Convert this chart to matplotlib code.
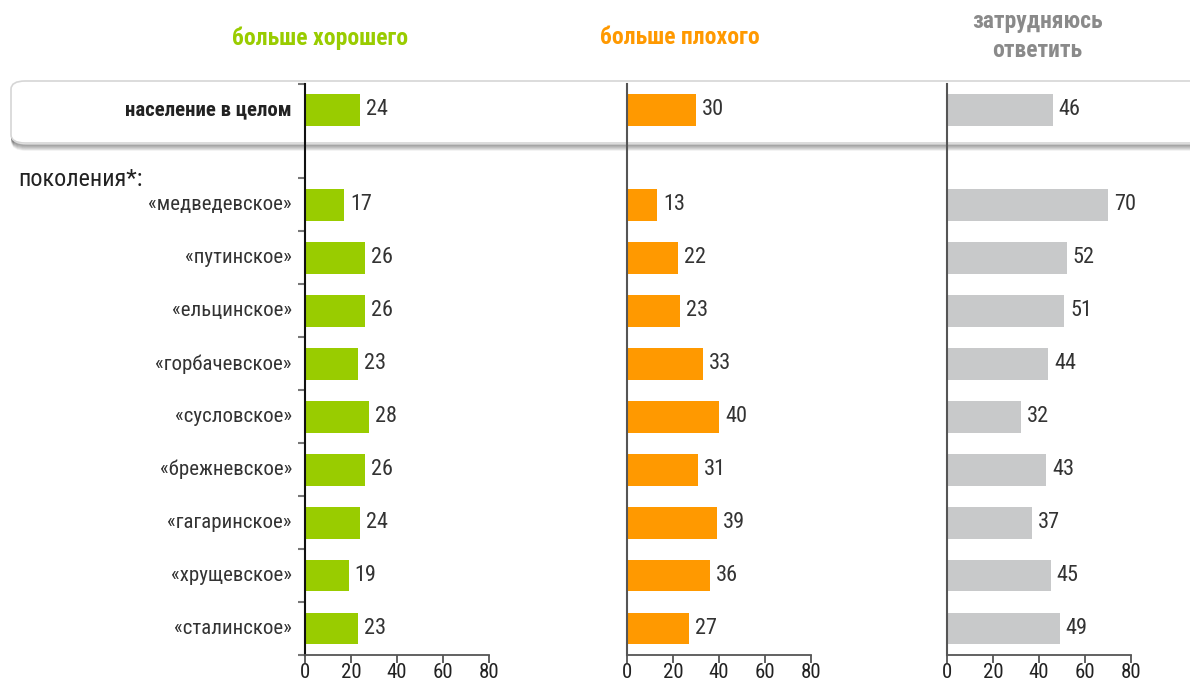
import matplotlib.pyplot as plt
from matplotlib.patches import FancyBboxPatch
import matplotlib.font_manager as fm

# font: try a narrow family, fall back to DejaVu
names = {f.name for f in fm.fontManager.ttflist}
fam = [n for n in ['Roboto Condensed', 'Liberation Sans Narrow', 'Open Sans', 'DejaVu Sans'] if n in names]
plt.rcParams['font.family'] = fam

# data
total_label = "население в целом"
total = [24, 30, 46]
generations = ["«медведевское»", "«путинское»", "«ельцинское»", "«горбачевское»",
               "«сусловское»", "«брежневское»", "«гагаринское»", "«хрущевское»",
               "«сталинское»"]
good = [17, 26, 26, 23, 28, 26, 24, 19, 23]
bad = [13, 22, 23, 33, 40, 31, 39, 36, 27]
hard = [70, 52, 51, 44, 32, 43, 37, 45, 49]
headers = ["больше хорошего", "больше плохого", "затрудняюсь\nответить"]
colors = ["#99cc00", "#ff9900", "#c8c9ca"]
head_colors = ["#99cc00", "#ff9900", "#8a8a8a"]
xticks = [0, 20, 40, 60, 80]

W, H = 1190, 685
fig = plt.figure(figsize=(W / 100, H / 100), dpi=100)

# rounded box around the "population" row, with a soft shadow
for i in range(6):
    sh = FancyBboxPatch((12 / W, (H - 145 - i) / H), 1200 / W, 62 / H,
                        boxstyle="round,pad=0,rounding_size=0.012",
                        transform=fig.transFigure, fc="none",
                        ec="#404040", lw=1.2, alpha=0.35 - i * 0.055, zorder=-3)
    fig.patches.append(sh)
box = FancyBboxPatch((11 / W, (H - 143) / H), 1200 / W, 62 / H,
                     boxstyle="round,pad=0,rounding_size=0.012",
                     transform=fig.transFigure, fc="white", ec="#d6d6d6",
                     lw=1.2, zorder=-2)
fig.patches.append(box)

lefts = [305, 627, 947]
top_px, bot_px = 84, 655
row0_px, step_px = 205, 53
y_total = (110 - row0_px) / step_px
y_top = (top_px - row0_px) / step_px
ys = list(range(len(generations)))

for k, (vals, col) in enumerate(zip([good, bad, hard], colors)):
    ax = fig.add_axes([lefts[k] / W, (H - bot_px) / H, 184 / W, (bot_px - top_px) / H])
    ax.patch.set_alpha(0)
    ax.barh(ys, vals, height=0.6, color=col, zorder=2)
    ax.barh([y_total], [total[k]], height=0.6, color=col, zorder=2)
    for y, v in zip(ys + [y_total], vals + [total[k]]):
        ax.annotate(str(v), (v, y), xytext=(6, 0), textcoords="offset pixels",
                    va="center", ha="left", fontsize=16, color="#333333")
    ax.set_xlim(0, 80)
    ax.set_ylim(8.5, y_top)
    for s in ["top", "right"]:
        ax.spines[s].set_visible(False)
    ax.spines["bottom"].set_color("#555555")
    ax.spines["bottom"].set_linewidth(1.3)
    ax.spines["left"].set_linewidth(1.5)
    ax.set_xticks(xticks)
    ax.tick_params(axis="x", length=6, width=1.3, color="#555555",
                   labelsize=15, labelcolor="#222222", pad=0)
    if k == 0:
        ax.spines["left"].set_color("#111111")
        ax.set_yticks([y_top] + [y + 0.5 for y in [-1] + ys])
        ax.set_yticklabels([])
        ax.tick_params(axis="y", length=5, width=1.5, color="#777777")
        for y, lab in zip(ys, generations):
            ax.annotate(lab, (0, y), xycoords=("axes fraction", "data"),
                        xytext=(-13, 0), textcoords="offset pixels",
                        ha="right", va="center", fontsize=15, color="#333333")
        ax.annotate(total_label, (0, y_total), xycoords=("axes fraction", "data"),
                    xytext=(-13, 0), textcoords="offset pixels",
                    ha="right", va="center", fontsize=15, fontweight="bold",
                    color="#222222")
    else:
        ax.spines["left"].set_color("#555555")
        ax.set_yticks([])

fig.text(18 / W, 1 - 180 / H, "поколения*:", fontsize=17.5, color="#222222",
         ha="left", va="center")
head_x = [320, 680, 1037]
for x, t, c in zip(head_x, headers, head_colors):
    y = 38 if "\n" not in t else 36
    fig.text(x / W, 1 - y / H, t, fontsize=17, fontweight="bold", color=c,
             ha="center", va="center", linespacing=1.35)

fig.savefig("out.png", dpi=100)
